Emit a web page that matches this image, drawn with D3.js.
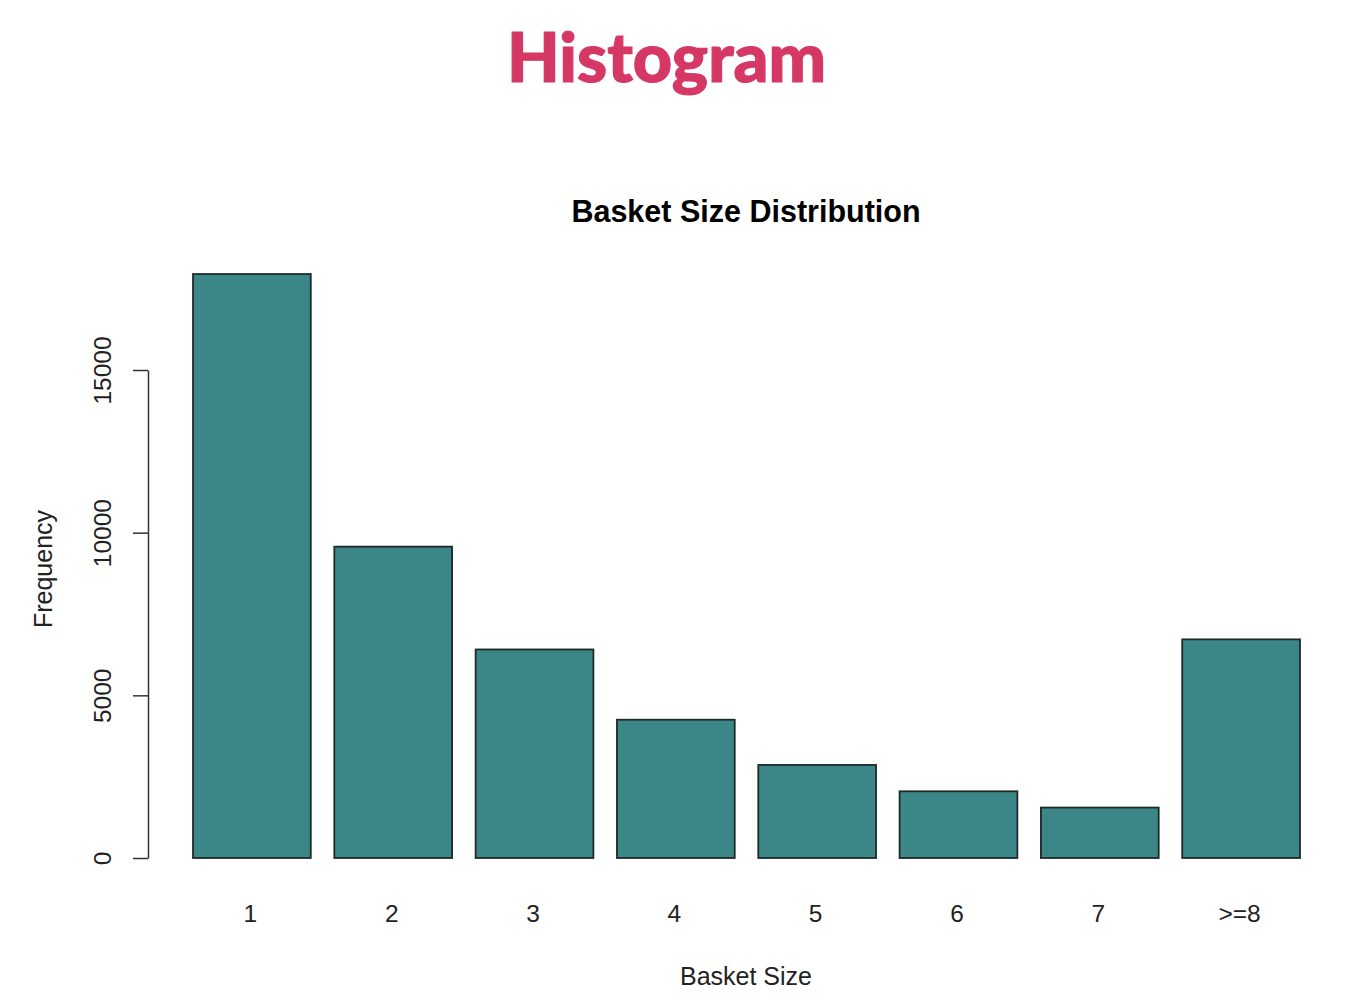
<!DOCTYPE html>
<html>
<head>
<meta charset="utf-8">
<script src="https://cdn.jsdelivr.net/npm/d3@7"></script>
<style>
  html, body { margin: 0; padding: 0; background: #ffffff; }
  svg { display: block; }
</style>
</head>
<body>
<svg id="chart" width="1354" height="1008"></svg>
<script>
// ---- data ----
const categories = ["1", "2", "3", "4", "5", "6", "7", ">=8"];
const frequencies = [17950, 9570, 6410, 4250, 2860, 2050, 1550, 6720];
const yTicks = [0, 5000, 10000, 15000];
const pageTitle = "Histogram";
const chartTitle = "Basket Size Distribution";
const xLabel = "Basket Size";
const yLabel = "Frequency";

// ---- layout ----
const W = 1354, H = 1008;
const svg = d3.select("#chart");
const labelFont = "'Liberation Sans', Arial, sans-serif";
const barSpace = 0.2; // R barplot style spacing

// x positions in "bar units" like R's barplot
const lefts = categories.map((c, i) => barSpace + i * (1 + barSpace));
const x = d3.scaleLinear()
  .domain([barSpace, barSpace + categories.length * (1 + barSpace) - barSpace])
  .range([193, 1300]);
const y = d3.scaleLinear().domain([0, 15000]).range([858, 370]);

// page title
const pt = svg.append("text")
  .attr("x", 666.5).attr("y", 82)
  .attr("text-anchor", "middle")
  .attr("fill", "#d63866")
  .attr("stroke", "#d63866")
  .attr("stroke-width", 1.2)
  .style("font-family", "Lato, 'Open Sans', sans-serif")
  .style("font-weight", 900)
  .style("font-size", "64px")
  .text(pageTitle);
{
  const w = pt.node().getComputedTextLength();
  if (w > 0) pt.style("font-size", (64 * 319 / w) + "px");
}

// chart title
svg.append("text")
  .attr("x", 746).attr("y", 222)
  .attr("text-anchor", "middle")
  .attr("fill", "#000")
  .style("font-family", labelFont)
  .style("font-weight", "bold")
  .style("font-size", "30.5px")
  .text(chartTitle);

// bars
svg.append("g").selectAll("rect")
  .data(frequencies)
  .join("rect")
  .attr("x", (d, i) => x(lefts[i]))
  .attr("width", (d, i) => x(lefts[i] + 1) - x(lefts[i]))
  .attr("y", d => y(d))
  .attr("height", d => y(0) - y(d))
  .attr("fill", "#3b8686")
  .attr("stroke", "#1e2a2a")
  .attr("stroke-width", 1.8);

// y axis (R-style: line spanning tick range, ticks to the left)
const yAxis = d3.axisLeft(y).tickValues(yTicks).tickFormat(d3.format("d"))
  .tickSize(15).tickSizeOuter(0).tickPadding(8);
const gy = svg.append("g").attr("transform", "translate(148,0)").call(yAxis);
gy.select(".domain").attr("stroke", "#333").attr("stroke-width", 1.5);
gy.selectAll(".tick line").attr("stroke", "#333").attr("stroke-width", 1.5);
gy.selectAll(".tick text")
  .attr("x", null).attr("dy", null)
  .attr("text-anchor", "middle")
  .attr("transform", "translate(-37.5,0) rotate(-90)")
  .attr("fill", "#222")
  .style("font-family", labelFont)
  .style("font-size", "24.5px");

// x category labels
const centers = lefts.map(l => x(l + 0.5));
svg.append("g").selectAll("text")
  .data(categories)
  .join("text")
  .attr("x", (d, i) => centers[i] - 1.5)
  .attr("y", 921.5)
  .attr("text-anchor", "middle")
  .attr("fill", "#222")
  .style("font-family", labelFont)
  .style("font-size", "24.5px")
  .text(d => d);

// x axis label
svg.append("text")
  .attr("x", 746).attr("y", 985)
  .attr("text-anchor", "middle")
  .attr("fill", "#222")
  .style("font-family", labelFont)
  .style("font-size", "25px")
  .text(xLabel);

// y axis label
svg.append("text")
  .attr("transform", "translate(52,569) rotate(-90)")
  .attr("text-anchor", "middle")
  .attr("fill", "#222")
  .style("font-family", labelFont)
  .style("font-size", "25px")
  .text(yLabel);
</script>
</body>
</html>
